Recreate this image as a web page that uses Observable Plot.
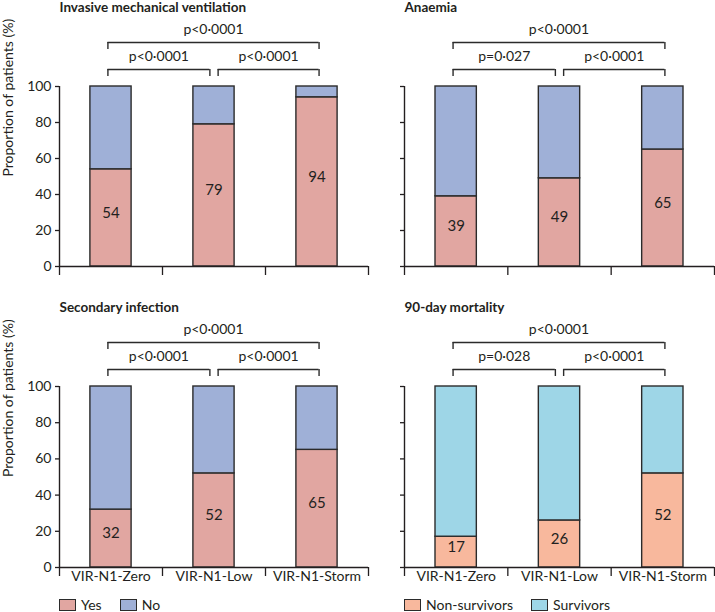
<!DOCTYPE html>
<html>
<head>
<meta charset="utf-8">
<script src="https://cdn.jsdelivr.net/npm/d3@7"></script>
<script src="https://cdn.jsdelivr.net/npm/@observablehq/plot@0.6"></script>
<style>
  html, body { margin: 0; padding: 0; background: #fff; }
  #root { position: relative; width: 715px; height: 612px; overflow: hidden; font-family: Lato, "Open Sans", sans-serif; color: #231f20; }
  .panel { position: absolute; }
  .legend { position: absolute; display: flex; align-items: center; font-size: 14px; line-height: 14px; }
  .legend .sw { width: 15px; height: 10px; border: 1.5px solid #2b2b2b; display: inline-block; margin-right: 5px; }
  .legend .item { display: flex; align-items: center; margin-right: 18px; }
</style>
</head>
<body>
<div id="root"></div>
<script>
// ---- data ----
const groups = ["VIR-N1-Zero", "VIR-N1-Low", "VIR-N1-Storm"];
const ventilationYes = [54, 79, 94];
const anaemiaYes = [39, 49, 65];
const infectionYes = [32, 52, 65];
const mortalityNonSurvivors = [17, 26, 52];
// p-values: [Zero vs Low, Low vs Storm, Zero vs Storm]
const ventilationP = ["p<0·0001", "p<0·0001", "p<0·0001"];
const anaemiaP = ["p=0·027", "p<0·0001", "p<0·0001"];
const infectionP = ["p<0·0001", "p<0·0001", "p<0·0001"];
const mortalityP = ["p=0·028", "p<0·0001", "p<0·0001"];
const yesNoKeys = ["Yes", "No"];
const survivalKeys = ["Non-survivors", "Survivors"];
const yTicks = [0, 20, 40, 60, 80, 100];

const root = document.getElementById("root");

function panel({title, values, pvals, keys, colors, left, top, width, marginLeft, marginRight, frameH, marginBottom, showY, showX}) {
  const rows = [];
  values.forEach((v, i) => {
    rows.push({i, key: keys[0], y1: 0, y2: v, v});
    rows.push({i, key: keys[1], y1: v, y2: 100, v});
  });
  const lower = rows.filter(d => d.key === keys[0]);
  const pxu = frameH / 100;
  const up = px => 100 + px / pxu;
  const outerY = up(44), outerLeg = up(37);
  const innerY = up(17), innerLeg = up(10);
  const hLines = [
    {x1: 0.47, x2: 1.46, y: innerY},
    {x1: 1.54, x2: 2.52, y: innerY},
    {x1: 0.47, x2: 2.52, y: outerY}
  ];
  const vLegs = [
    {x: 0.47, y1: innerLeg, y2: innerY}, {x: 1.46, y1: innerLeg, y2: innerY},
    {x: 1.54, y1: innerLeg, y2: innerY}, {x: 2.52, y1: innerLeg, y2: innerY},
    {x: 0.47, y1: outerLeg, y2: outerY}, {x: 2.52, y1: outerLeg, y2: outerY}
  ];
  const pLabels = [
    {x: 0.965, y: innerY, t: pvals[0]},
    {x: 2.03, y: innerY, t: pvals[1]},
    {x: 1.495, y: outerY, t: pvals[2]}
  ];
  const marks = [
    Plot.rectY(rows, {x1: d => d.i + 0.3, x2: d => d.i + 0.7, y1: "y1", y2: "y2", fill: "key", stroke: "#2b2b2b", strokeWidth: 1.4}),
    Plot.text(lower, {x: d => d.i + 0.5, y: d => d.v / 2, text: d => String(d.v), dy: -5, fontSize: 15, fill: "#231f20"}),
    Plot.axisY({ticks: yTicks, tickSize: 4, tickPadding: 4, tickFormat: showY ? (d => d) : (() => ""), fontSize: 14, label: null, strokeWidth: 1.3}),
    Plot.axisX({ticks: [0, 1, 2, 3], tickSize: 9, tickFormat: () => "", label: null, strokeWidth: 1.3}),
    Plot.ruleX([0], {stroke: "#231f20", strokeWidth: 1.4}),
    Plot.ruleY([0], {stroke: "#231f20", strokeWidth: 1.4}),
    Plot.ruleY(hLines, {x1: "x1", x2: "x2", y: "y", stroke: "#2b2b2b", strokeWidth: 1.4}),
    Plot.ruleX(vLegs, {x: "x", y1: "y1", y2: "y2", stroke: "#2b2b2b", strokeWidth: 1.4}),
    Plot.text(pLabels, {x: "x", y: "y", text: "t", dy: -13, fontSize: 14, fill: "#231f20"}),
    Plot.text([title], {frameAnchor: "top-left", lineAnchor: "middle", dy: -79, dx: 0, textAnchor: "start", fontWeight: "bold", fontSize: 13.5, fill: "#231f20"})
  ];
  if (showY) marks.push(Plot.text(["Proportion of patients (%)"], {frameAnchor: "left", rotate: -90, dx: -51, fontSize: 14, fill: "#231f20"}));
  if (showX) marks.push(Plot.axisX({ticks: [0.5, 1.5, 2.5], tickSize: 0, tickPadding: 4, tickFormat: d => groups[Math.round(d - 0.5)], fontSize: 14, label: null}));
  const chart = Plot.plot({
    width, height: 86 + frameH + marginBottom,
    marginLeft, marginRight, marginTop: 86, marginBottom,
    style: {fontFamily: "Lato, 'Open Sans', sans-serif", fontSize: "14px", color: "#231f20", background: "transparent"},
    x: {type: "linear", domain: [0, 3], axis: null},
    y: {domain: [0, 100], axis: null},
    color: {domain: keys, range: colors},
    marks
  });
  const div = document.createElement("div");
  div.className = "panel";
  div.style.left = left + "px";
  div.style.top = top + "px";
  div.appendChild(chart);
  root.appendChild(div);
}

const yesNoColors = ["#e1a6a1", "#9fb0d7"];
const survColors = ["#f8b89d", "#9ed6e7"];
const L = {left: 0, width: 370, marginLeft: 59, marginRight: 2};
const R = {left: 370, width: 345, marginLeft: 34, marginRight: 1};

panel({title: "Invasive mechanical ventilation", values: ventilationYes, pvals: ventilationP, keys: yesNoKeys, colors: yesNoColors, ...L, top: 0, frameH: 180, marginBottom: 14, showY: true, showX: false});
panel({title: "Anaemia", values: anaemiaYes, pvals: anaemiaP, keys: yesNoKeys, colors: yesNoColors, ...R, top: 0, frameH: 180, marginBottom: 14, showY: false, showX: false});
panel({title: "Secondary infection", values: infectionYes, pvals: infectionP, keys: yesNoKeys, colors: yesNoColors, ...L, top: 300, frameH: 181, marginBottom: 26, showY: true, showX: true});
panel({title: "90-day mortality", values: mortalityNonSurvivors, pvals: mortalityP, keys: survivalKeys, colors: survColors, ...R, top: 300, frameH: 181, marginBottom: 26, showY: false, showX: true});

function legend(keys, colors, left) {
  const lg = document.createElement("div");
  lg.className = "legend";
  lg.style.left = left + "px";
  lg.style.top = "598px";
  keys.forEach((k, i) => {
    const it = document.createElement("span");
    it.className = "item";
    const sw = document.createElement("span");
    sw.className = "sw";
    sw.style.background = colors[i];
    it.appendChild(sw);
    it.appendChild(document.createTextNode(k));
    lg.appendChild(it);
  });
  root.appendChild(lg);
}
legend(yesNoKeys, yesNoColors, 59);
legend(survivalKeys, survColors, 404);
</script>
</body>
</html>
